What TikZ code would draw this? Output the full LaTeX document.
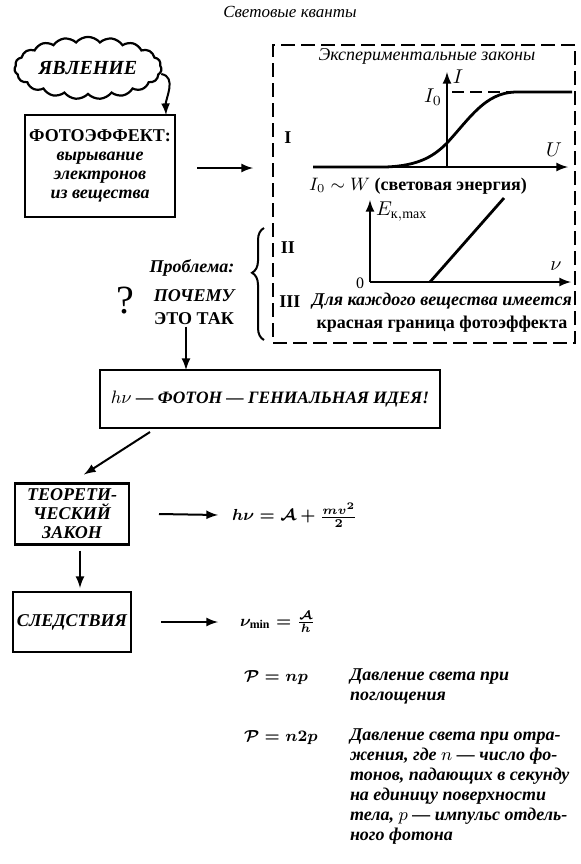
\documentclass[tikz,border=0pt]{standalone}
\usepackage{amsmath}
\usepackage{fontspec}
\setmainfont{Liberation Serif}
\usetikzlibrary{positioning}
\usetikzlibrary{arrows}
\usetikzlibrary{shapes.symbols}
\usetikzlibrary{decorations.pathreplacing}

\begin{document}
\begin{tikzpicture}[x=0.5pt,y=-0.5pt,every node/.style={outer sep=0pt,inner sep=1pt},line width=1pt,
 box/.style={draw,line width=1.1pt,align=center,inner sep=2pt,
  font=\fontsize{9}{9.5}\selectfont\bfseries\itshape},
 lbl/.style={font=\fontsize{9}{11.5}\selectfont\bfseries\itshape,align=center},
 note/.style={anchor=north west,align=left,inner sep=0pt,
  font=\fontsize{9}{10}\selectfont\bfseries\itshape},
 fml/.style={anchor=west,inner sep=0pt,font=\fontsize{8.5}{10}\selectfont\boldmath},
 roman/.style={font=\fontsize{9}{10}\selectfont\bfseries},
 ax/.style={-latex,line width=1pt},
 curve/.style={line width=1.4pt}]
\useasboundingbox (0,0) rectangle (581,864);

\node[font=\fontsize{8.5}{10}\selectfont\itshape] (title) at (290,12) {Световые кванты};

% phenomenon and the dashed block of laws
\node[cloud,draw,cloud puffs=19,cloud puff arc=100,aspect=2.8,inner sep=1pt,line width=1.1pt,
 minimum width=62pt,minimum height=26pt,font=\fontsize{10}{12}\selectfont\bfseries\itshape]
 (phen) at (88,68) {ЯВЛЕНИЕ};
\node[box,minimum width=75pt,minimum height=51pt] (photo) at (100,166)
 {{\upshape ФОТОЭФФЕКТ:}\\вырывание\\электронов\\из вещества};
\draw[-latex] ([yshift=-3pt]phen.east) to[out=-10,in=92] ([xshift=-4.5pt]photo.north east);

\node[draw,dashed,dash pattern=on 7pt off 3pt,line width=1.1pt,minimum width=151pt,
 minimum height=149pt] (laws) at (424,194) {};
\draw[-latex] ([xshift=11pt,yshift=-1pt]photo.east) -- ([xshift=-10pt,yshift=-1pt]photo.east -| laws.west);

\node[font=\fontsize{9}{10}\selectfont\itshape] (lawsT) at (427,56) {Экспериментальные законы};

% graph I
\draw[ax] (313,167) coordinate (u0) -- (568,167) coordinate (u1);
\draw[ax] (447,167) coordinate (o1) -- (447,72) coordinate (i1);
\draw[dashed,dash pattern=on 6pt off 3pt] (452,92) coordinate (d0) -- (575,92) coordinate (d1);
\draw[curve] (u0) -- (385,167) .. controls (420,166) and (435,155) .. (447,143)
 .. controls (470,118) and (485,93) .. (515,92) -- (572,92);
\node (Ulbl) at (554,150) {$U$};
\node (Ilbl) at (458,77) {$I$};
\node (I0lbl) at (433,97) {$I_0$};
\node[roman] (r1) at (288,138) {I};
\node[font=\fontsize{9}{10}\selectfont\bfseries] (law1) at (418,186) {$I_0\sim W$ (световая энергия)};

% graph II
\draw[ax] (370,282) coordinate (o2) -- (370,200) coordinate (e1);
\draw[ax] (o2) -- (571,282) coordinate (n1);
\draw[curve] (430,282) -- (504,198);
\node (zero) at (360,283) {\fontsize{8}{9}\selectfont 0};
\node (nulbl) at (556,266) {$\nu$};
\node[anchor=west] (Elbl) at (374,212) {$E_{\text{к},\max}$};
\node[roman] (r2) at (288,248) {II};
\node[roman] (r3) at (290,302) {III};
\node[lbl] (law3) at (442,313) {Для каждого вещества имеется\\{\upshape красная граница фотоэффекта}};

\draw[decorate,decoration={brace,amplitude=6pt,aspect=0.6}] (264,340) -- (264,228);

% the problem
\node[lbl] (prob) at (192,268) {Проблема:};
\node[font=\fontsize{20}{20}\selectfont] (quest) at (125,301) {?};
\node[lbl] (why) at (194,307) {ПОЧЕМУ\\{\upshape ЭТО ТАК}};

\node[box,minimum width=170pt,minimum height=29pt,font=\fontsize{8.7}{10}\selectfont\bfseries\itshape]
 (idea) at (270,399) {$h\nu$ --- ФОТОН --- ГЕНИАЛЬНАЯ ИДЕЯ!};
\draw[-latex] ([xshift=-4pt]why.south) -- ([xshift=-4pt]why.south |- idea.north);

% theory and consequences
\node[box,minimum width=57pt,minimum height=30.5pt] (theory) at (72,514)
 {ТЕОРЕТИ-\\ЧЕСКИЙ\\ЗАКОН};
\node[box,minimum width=57pt,minimum height=30pt] (conseq) at (72,622) {СЛЕДСТВИЯ};
\draw[-latex] ([xshift=25pt,yshift=-2pt]idea.south west) -- ([xshift=6pt,yshift=4.5pt]theory.north);
\draw[-latex] ([xshift=4pt,yshift=-3pt]theory.south) -- ([xshift=4pt,yshift=2pt]conseq.north);

\node[fml] (f1) at (232,515) {$h\nu=\mathcal{A}+\tfrac{mv^2}{2}$};
\node[fml] (f2) at (240,622) {$\nu_{\min}=\frac{\mathcal{A}}{h}$};
\draw[-latex] ([xshift=15pt]theory.east) -- ([xshift=-7pt]f1.west);
\draw[-latex] ([xshift=15pt]conseq.east) -- ([xshift=-7pt]conseq.east -| f1.west);

\node[fml] (f3) at (244,678) {$\mathcal{P}=np$};
\node[fml] (f4) at (244,738) {$\mathcal{P}=n2p$};
\node[note] (n3) at (350,669) {Давление света при\\поглощения};
\node[note] (n4) at (350,729) {Давление света при отра-\\жения, где $n$ --- число фо-\\тонов, падающих в секунду\\на единицу поверхности\\тела, $p$ --- импульс отдель-\\ного фотона};

\end{tikzpicture}
\end{document}
